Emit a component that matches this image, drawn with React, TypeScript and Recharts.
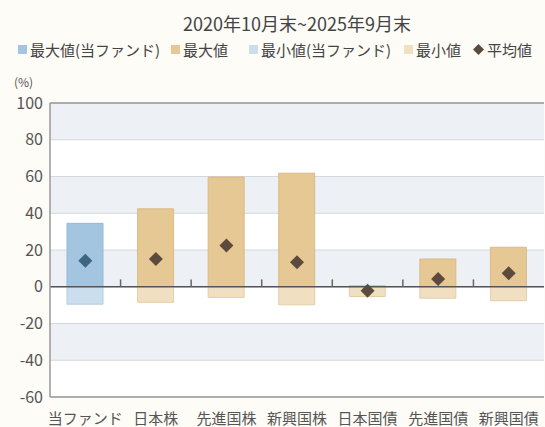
import React from 'react';
import {
  ComposedChart, Bar, Scatter, XAxis, YAxis, CartesianGrid, ReferenceLine, Cell,
} from 'recharts';

const categories = ['当ファンド', '日本株', '先進国株', '新興国株', '日本国債', '先進国債', '新興国債'];
const maxValues = [34.5, 42.4, 59.7, 61.8, 0.5, 15.1, 21.5];
const minValues = [-9.5, -8.5, -5.8, -9.8, -5.3, -6.2, -7.6];
const avgValues = [14.2, 15.1, 22.4, 13.3, -2.2, 4.2, 7.3];
const yTicks = [-60, -40, -20, 0, 20, 40, 60, 80, 100];

const FONT = '"Noto Sans CJK JP", "Noto Sans", sans-serif';
const BG = '#fdfcf7';

const FUND_MAX = '#a4c5e0';
const FUND_MIN = '#cadeee';
const OTHER_MAX = '#e6c894';
const OTHER_MIN = '#f1dfc1';
const FUND_AVG = '#3e6683';
const OTHER_AVG = '#5c4b3d';

const data = categories.map((name, i) => ({
  name,
  max: maxValues[i],
  min: minValues[i],
  avg: avgValues[i],
}));

const Diamond = (props: any) => {
  const { cx, cy, payload } = props;
  if (cx == null || cy == null) return null;
  const r = 7;
  const fill = payload.name === categories[0] ? FUND_AVG : OTHER_AVG;
  return <path d={`M${cx},${cy - r}L${cx + r},${cy}L${cx},${cy + r}L${cx - r},${cy}Z`} fill={fill} />;
};

const legendItems = [
  { label: '最大値(当ファンド)', color: FUND_MAX, type: 'square', x: 18 },
  { label: '最大値', color: OTHER_MAX, type: 'square', x: 171 },
  { label: '最小値(当ファンド)', color: FUND_MIN, type: 'square', x: 249 },
  { label: '最小値', color: OTHER_MIN, type: 'square', x: 404 },
  { label: '平均値', color: OTHER_AVG, type: 'diamond', x: 473 },
];

export default function App() {
  return (
    <div style={{ position: 'absolute', left: 0, top: 0, width: 545, height: 427, background: BG, fontFamily: FONT, overflow: 'hidden' }}>
      <div style={{ position: 'absolute', top: 10, left: 0, width: 594, textAlign: 'center', fontSize: 18, color: '#444' }}>
        2020年10月末~2025年9月末
      </div>
      {legendItems.map((it) => (
        <div key={it.label} style={{ position: 'absolute', top: 39, left: it.x, display: 'flex', alignItems: 'center', whiteSpace: 'nowrap', fontSize: 15, color: '#444' }}>
          {it.type === 'square' ? (
            <span style={{ display: 'inline-block', width: 9, height: 9, background: it.color, marginRight: 3 }} />
          ) : (
            <svg width={11} height={11} style={{ marginRight: 3 }}>
              <path d="M5.5,0L11,5.5L5.5,11L0,5.5Z" fill={it.color} />
            </svg>
          )}
          {it.label}
        </div>
      ))}
      <div style={{ position: 'absolute', top: 73, left: 14, fontSize: 12, color: '#555' }}>(%)</div>
      <ComposedChart
        width={545}
        height={427}
        data={data}
        stackOffset="sign"
        margin={{ top: 103, right: 1, left: 0, bottom: 0 }}
      >
        <CartesianGrid
          vertical={false}
          stroke="#d4d8dc"
          horizontalFill={['#edf0f4', '#ffffff']}
          fillOpacity={1}
        />
        <XAxis
          dataKey="name"
          height={30}
          tickLine={false}
          axisLine={{ stroke: '#9a9a9a', strokeWidth: 1.5 }}
          tickSize={0}
          tickMargin={16}
          interval={0}
          tick={{ fontSize: 15, fill: '#555', fontFamily: FONT }}
        />
        <YAxis
          width={50}
          domain={[-60, 100]}
          ticks={yTicks}
          interval={0}
          tickLine={false}
          tickSize={0}
          tickMargin={7}
          axisLine={{ stroke: '#9a9a9a', strokeWidth: 1.5 }}
          tick={{ fontSize: 16, fill: '#555', fontFamily: FONT }}
        />
        <YAxis yAxisId="right" orientation="right" width={0} domain={[-60, 100]} tick={false} tickLine={false} axisLine={{ stroke: '#9a9a9a', strokeWidth: 1.5 }} />
        <ReferenceLine y={100} stroke="#9a9a9a" strokeWidth={1.5} />
        <Bar dataKey="max" stackId="a" barSize={36} isAnimationActive={false}>
          {data.map((d, i) => (
            <Cell key={d.name} fill={i === 0 ? FUND_MAX : OTHER_MAX} stroke={i === 0 ? '#95b8d4' : '#d9bb87'} strokeWidth={1} />
          ))}
        </Bar>
        <Bar dataKey="min" stackId="a" barSize={36} isAnimationActive={false}>
          {data.map((d, i) => (
            <Cell key={d.name} fill={i === 0 ? FUND_MIN : OTHER_MIN} stroke={i === 0 ? '#b5cfe3' : '#e3cfa9'} strokeWidth={1} />
          ))}
        </Bar>
        <ReferenceLine y={0} stroke="#555" strokeWidth={1.5} />
        {categories.slice(1).map((c) => (
          <ReferenceLine
            key={c}
            position="start"
            segment={[{ x: c, y: 0 }, { x: c, y: 4 }]}
            stroke="#666"
            strokeWidth={1.5}
          />
        ))}
        <Scatter dataKey="avg" shape={<Diamond />} isAnimationActive={false} />
      </ComposedChart>
    </div>
  );
}
